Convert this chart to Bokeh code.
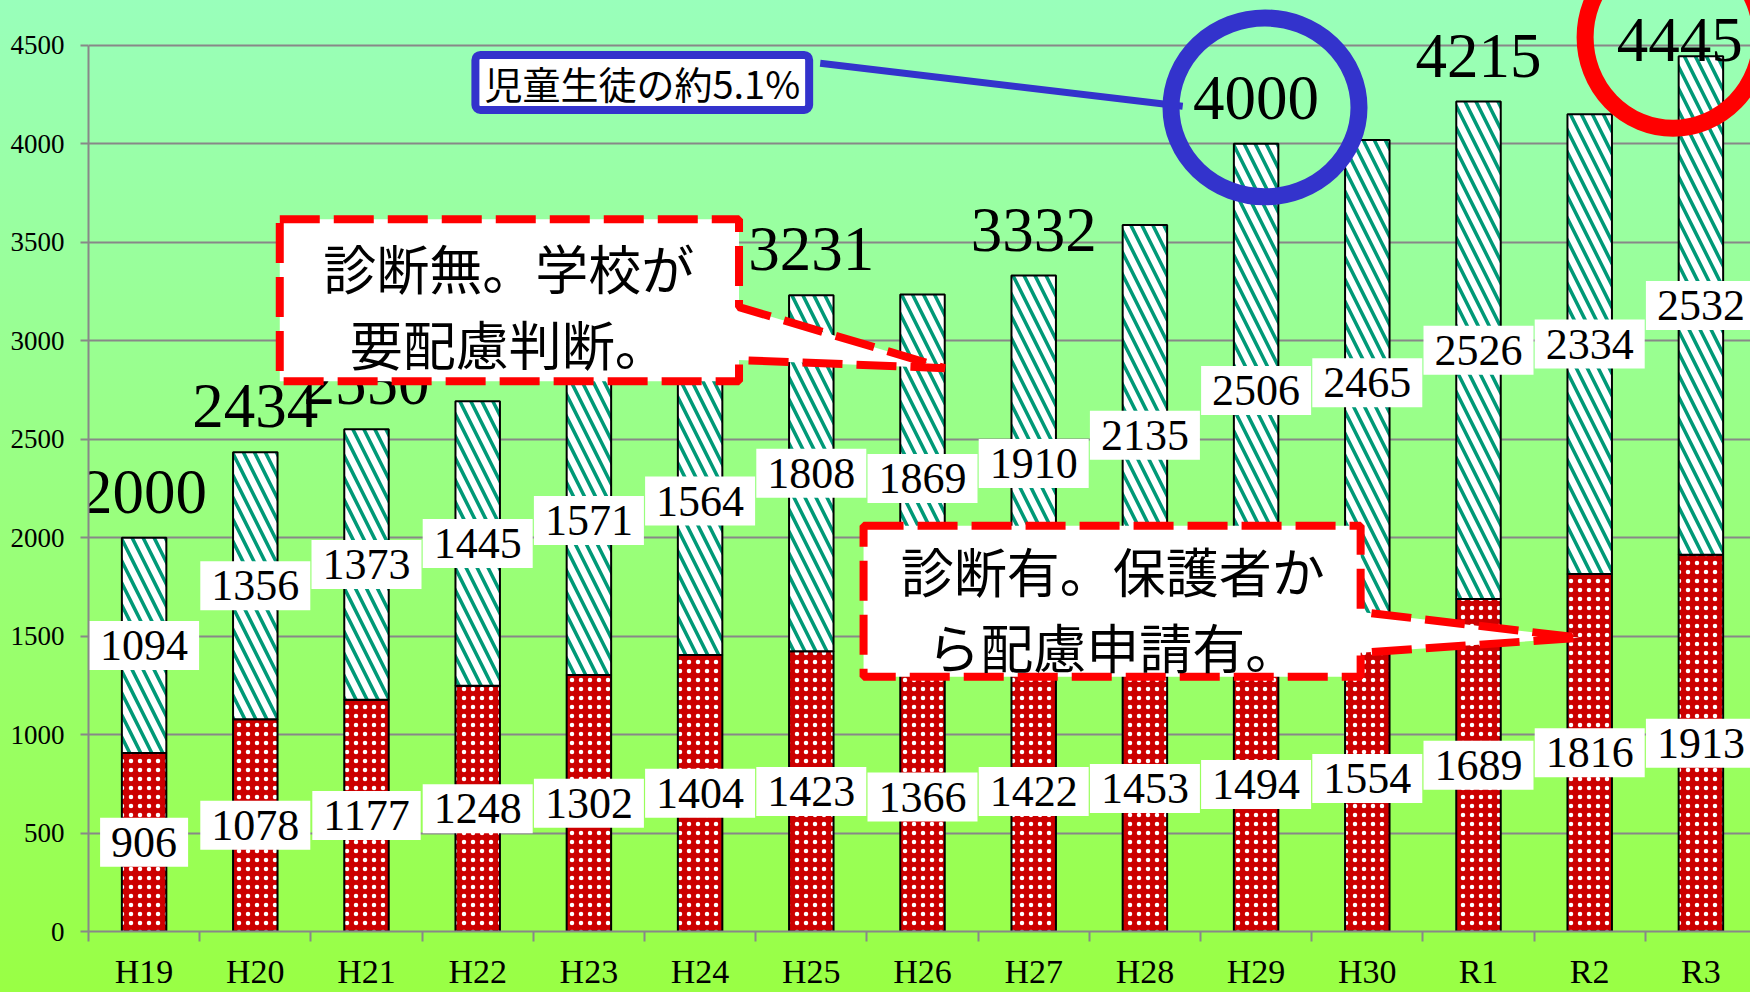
import numpy as np
from bokeh.plotting import figure
from bokeh.models import FixedTicker, Range1d
from bokeh.core.properties import value
from bokeh.embed import file_html
from bokeh.resources import INLINE

# ---- data ----
categories = ["H19", "H20", "H21", "H22", "H23", "H24", "H25", "H26",
              "H27", "H28", "H29", "H30", "R1", "R2", "R3"]
diagnosed = [906, 1078, 1177, 1248, 1302, 1404, 1423, 1366,
             1422, 1453, 1494, 1554, 1689, 1816, 1913]
undiagnosed = [1094, 1356, 1373, 1445, 1571, 1564, 1808, 1869,
               1910, 2135, 2506, 2465, 2526, 2334, 2532]
y_ticks = [0, 500, 1000, 1500, 2000, 2500, 3000, 3500, 4000, 4500]
total_label_cats = ["H19", "H20", "H21", "H25", "H27", "H29", "R1", "R3"]

note_top = "児童生徒の約5.1%"
note_undiag = "診断無。学校が\n要配慮判断。"
note_diag = "診断有。保護者か\nら配慮申請有。"

# ---- derived ----
n = len(categories)
x = np.arange(n) + 0.5
d = np.array(diagnosed)
u = np.array(undiagnosed)
tot = d + u
idx = [categories.index(c) for c in total_label_cats]

SERIF = value("Liberation Serif")
SANS_JP = value("Noto Sans CJK JP")
GRAY = "#888888"

p = figure(width=1750, height=992,
           x_range=Range1d(0, 14.946), y_range=Range1d(0, 4728),
           output_backend="svg", toolbar_location=None,
           min_border_left=88, min_border_right=0,
           min_border_top=0, min_border_bottom=60)
p.background_fill_color = None
p.border_fill_color = None
p.outline_line_color = None
p.styles = {"background": "linear-gradient(to bottom, #99FFBB 0%, #99FF44 100%)"}

# axes
p.xaxis.ticker = FixedTicker(ticks=list(x), minor_ticks=list(range(n + 1)))
p.xaxis.major_label_overrides = {float(xi): c for xi, c in zip(x, categories)}
p.xaxis.axis_line_color = GRAY
p.xaxis.axis_line_width = 2
p.xaxis.major_tick_line_color = None
p.xaxis.major_tick_out = 0
p.xaxis.major_tick_in = 0
p.xaxis.minor_tick_line_color = GRAY
p.xaxis.minor_tick_line_width = 2
p.xaxis.minor_tick_out = 10
p.xaxis.minor_tick_in = 0
p.xaxis.major_label_text_font = "Liberation Serif"
p.xaxis.major_label_text_font_size = "34px"
p.xaxis.major_label_text_color = "black"
p.xaxis.major_label_text_line_height = 0.8
p.xaxis.major_label_standoff = 11

p.yaxis.ticker = FixedTicker(ticks=y_ticks, minor_ticks=[])
p.yaxis.bounds = (0, 4500)
p.yaxis.axis_line_color = GRAY
p.yaxis.axis_line_width = 2
p.yaxis.major_tick_line_color = GRAY
p.yaxis.major_tick_line_width = 2
p.yaxis.major_tick_out = 8
p.yaxis.major_tick_in = 0
p.yaxis.minor_tick_line_color = None
p.yaxis.major_label_text_font = "Liberation Serif"
p.yaxis.major_label_text_font_size = "27px"
p.yaxis.major_label_text_color = "black"
p.yaxis.major_label_standoff = 16

p.xgrid.visible = False
p.ygrid.ticker = FixedTicker(ticks=y_ticks, minor_ticks=[])
p.ygrid.grid_line_color = GRAY
p.ygrid.grid_line_width = 2

# bars
p.vbar(x=x, bottom=0, top=d, width=0.4, fill_color="#CC0000",
       line_color="black", line_width=2,
       hatch_pattern="dot", hatch_color="white", hatch_scale=9, hatch_weight=2)
p.vbar(x=x, bottom=d, top=tot, width=0.4, fill_color="white",
       line_color="black", line_width=2,
       hatch_pattern="left_diagonal_line", hatch_color="#009977",
       hatch_scale=22, hatch_weight=3.5)

# segment labels
pad = dict(left=11, right=11, top=10, bottom=10)
p.text(x=x, y=d / 2, text=[str(v) for v in d], text_align="center",
       text_baseline="middle", text_font=SERIF, text_font_size="44px",
       text_color="black", background_fill_color="white", padding=pad)
p.text(x=x, y=d + u / 2, text=[str(v) for v in u], text_align="center",
       text_baseline="middle", text_font=SERIF, text_font_size="44px",
       text_color="black", background_fill_color="white", padding=pad)

# total labels (kept inside the plot near the top / right edge)
ty = np.minimum(tot[idx] + 233, 4525)
tx = np.minimum(x[idx], 14.31)
p.text(x=tx, y=ty, text=[str(tot[i]) for i in idx], text_align="center",
       text_baseline="middle", text_font=SERIF, text_font_size="63px",
       text_color="black")

# callout 1 (undiagnosed)
L, R, T, B = 1.72, 5.85, 3617, 2795
r = p.patch([L, R, R, 7.70, R, R, L], [T, T, 3171, 2861, 2902, B, B],
            fill_color="white", line_color="#FF0000", line_width=8,
            line_dash="40 14")
r.level = "overlay"
r = p.text(x=[3.78], y=[3181], text=[note_undiag], text_align="center",
           text_baseline="middle", text_font=SANS_JP, text_font_size="53px",
           text_line_height=1.0, text_color="black")
r.level = "overlay"

# callout 2 (diagnosed)
L, R, T, B = 6.97, 11.44, 2060, 1294
r = p.patch([L, R, R, 13.41, R, R, L], [T, T, 1623, 1492, 1415, B, B],
            fill_color="white", line_color="#FF0000", line_width=8,
            line_dash="40 14")
r.level = "overlay"
r = p.text(x=[9.21], y=[1644], text=[note_diag], text_align="center",
           text_baseline="middle", text_font=SANS_JP, text_font_size="53px",
           text_line_height=1.0, text_color="black")
r.level = "overlay"

# blue note
r = p.line(x=[6.58, 9.84], y=[4409, 4191], line_color="#3333CC", line_width=7)
r.level = "overlay"
r = p.ellipse(x=[10.58], y=[4185], width=188, height=179,
              width_units="screen", height_units="screen",
              fill_color=None, line_color="#3333CC", line_width=17)
r.level = "overlay"
r = p.text(x=[4.98], y=[4312], text=[note_top], text_align="center",
           text_baseline="middle", text_font=SANS_JP, text_font_size="38px",
           text_color="black", background_fill_color="white",
           border_line_color="#3333CC", border_line_width=8,
           padding=dict(left=9, right=9, top=0, bottom=0), border_radius=5)
r.level = "overlay"

# red circle
r = p.ellipse(x=[14.25], y=[4541], width=176, height=182,
              width_units="screen", height_units="screen",
              fill_color=None, line_color="#FF0000", line_width=17)
r.level = "overlay"

open("out.html", "w").write(file_html(p, INLINE))
